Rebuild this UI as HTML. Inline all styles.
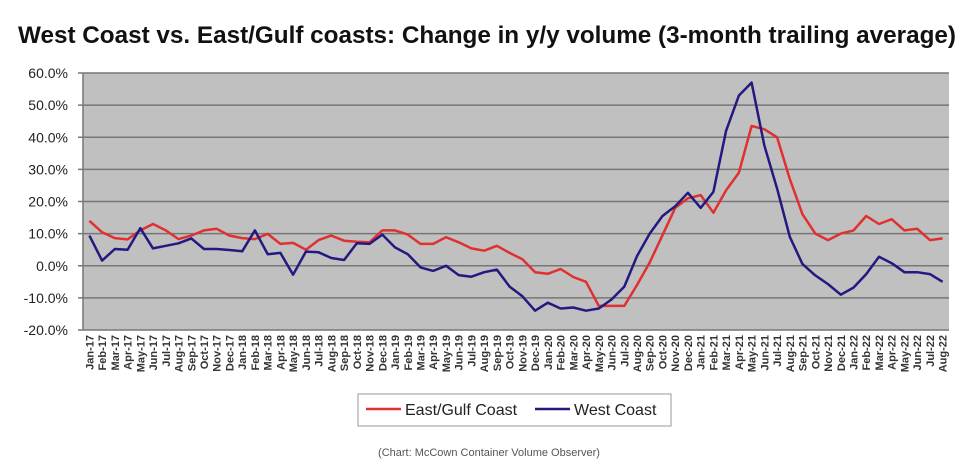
<!DOCTYPE html>
<html><head><meta charset="utf-8"><style>
html,body{margin:0;padding:0;background:#fff;}
svg{display:block;font-family:"Liberation Sans",Arial,sans-serif;}
</style></head><body>
<svg id="chart" width="975" height="469" viewBox="0 0 975 469">
<rect x="0" y="0" width="975" height="469" fill="#ffffff"/>
<text x="487" y="43" text-anchor="middle" font-size="24" font-weight="bold" fill="#111" textLength="938" lengthAdjust="spacingAndGlyphs">West Coast vs. East/Gulf coasts: Change in y/y volume (3-month trailing average)</text>
<rect x="83" y="73" width="866" height="257" fill="#c0c0c0"/>
<g id="grid"></g>
<g id="yticks"></g>
<g id="xticks"></g>
<g id="series"></g>
<rect x="358" y="394" width="313" height="32" fill="#fff" stroke="#999" stroke-width="1"/>
<line x1="366" y1="409" x2="401" y2="409" stroke="#e03030" stroke-width="2.5"/>
<text x="405" y="415" font-size="16" fill="#222">East/Gulf Coast</text>
<line x1="535" y1="409" x2="570" y2="409" stroke="#221a80" stroke-width="2.5"/>
<text x="574" y="415" font-size="16" fill="#222">West Coast</text>
<text x="489" y="456" text-anchor="middle" font-size="11" fill="#555">(Chart: McCown Container Volume Observer)</text>
</svg>
<script>
const months=["Jan","Feb","Mar","Apr","May","Jun","Jul","Aug","Sep","Oct","Nov","Dec"];
const categories=[];
for(let y=17;y<=22;y++){for(let m=0;m<12;m++){if(y===22&&m>7)break;categories.push(months[m]+"-"+y);}}
const eastGulf=[14,10.4,8.6,8.2,11,13,11,8.3,9.4,11,11.5,9.4,8.6,8.3,9.9,6.8,7.1,5,8,9.4,7.8,7.5,7.3,11,11,9.7,6.8,6.8,8.9,7.3,5.4,4.7,6.2,4,2,-2,-2.5,-1,-3.5,-5,-12.5,-12.5,-12.5,-6,1,9.5,18,21,22,16.5,23.5,29,43.5,42.5,40,27,16,10,8,10,11,15.5,13,14.5,11,11.5,8,8.5];
const westCoast=[9.4,1.6,5.2,5,11.7,5.4,6.2,7,8.5,5.2,5.2,4.9,4.5,11,3.6,4,-2.8,4.4,4.2,2.4,1.8,7,6.8,9.7,5.7,3.6,-0.5,-1.6,0,-2.9,-3.4,-2,-1.2,-6.5,-9.5,-14,-11.5,-13.3,-13,-14,-13.3,-10.5,-6.5,3,10,15.5,18.5,22.7,18,23,42,53,57,37.5,24,9,0.5,-3,-5.7,-9,-6.8,-2.6,2.8,0.8,-2,-2,-2.6,-5];
const yTicks=[60,50,40,30,20,10,0,-10,-20];
const X0=83,X1=949,Y0=73,Y1=330,YMIN=-20,YMAX=60;
const NS="http://www.w3.org/2000/svg";
const step=(X1-X0)/categories.length;
function xs(i){return X0+step*(i+0.5);}
function ys(v){return Y1-(v-YMIN)/(YMAX-YMIN)*(Y1-Y0);}
function mk(t,a,p){const e=document.createElementNS(NS,t);for(const k in a)e.setAttribute(k,a[k]);p.appendChild(e);return e;}
const grid=document.getElementById('grid'),yt=document.getElementById('yticks'),xt=document.getElementById('xticks'),ser=document.getElementById('series');
yTicks.forEach(v=>{
 const y=ys(v);
 const l=mk('line',{x1:78,x2:X1,y1:y,y2:y,stroke:'#777','stroke-width':1.5},grid);
 
 
 const t=mk('text',{x:68,y:y+5,'text-anchor':'end','font-size':14,fill:'#222'},yt);
 t.textContent=v.toFixed(1)+'%';
 
 
});
const ax=mk('line',{x1:X0,x2:X0,y1:Y0,y2:Y1,stroke:'#777','stroke-width':1.5},grid);


categories.forEach((c,i)=>{
 const x=xs(i);
 const t=mk('text',{x:0,y:0,'text-anchor':'end','font-size':11,'font-weight':'bold',fill:'#333',transform:`translate(${x+4},335) rotate(-90)`},xt);
 t.textContent=c;
 
 
});
function line(data,color,name){
 const d=data.map((v,i)=>(i?'L':'M')+xs(i).toFixed(1)+' '+ys(v).toFixed(1)).join(' ');
 const p=mk('path',{d:d,fill:'none',stroke:color,'stroke-width':2.5,'stroke-linejoin':'round'},ser);
 
 
}
line(eastGulf,'#e03030','east-gulf-line');
line(westCoast,'#221a80','west-coast-line');
</script>
</body></html>
